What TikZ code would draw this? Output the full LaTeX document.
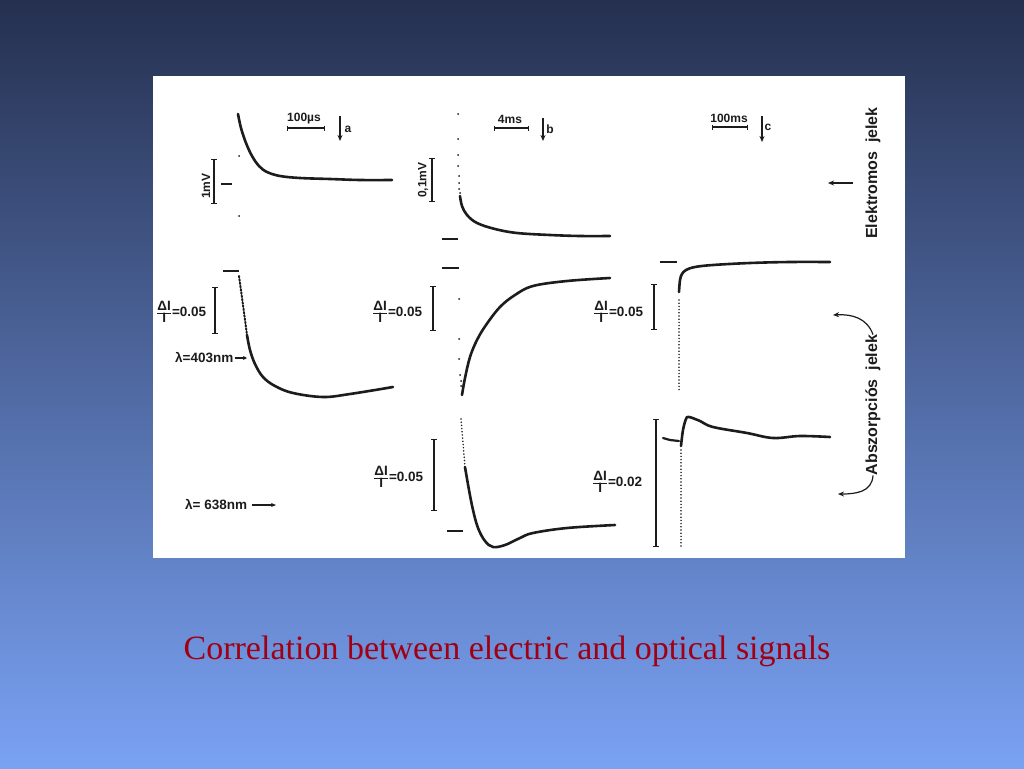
\documentclass[tikz,border=0pt]{standalone}
\usepackage{fontspec}
\setmainfont{Liberation Serif}
\setsansfont{Liberation Sans}
\usetikzlibrary{arrows.meta}
\definecolor{bgtop}{HTML}{25304F}
\definecolor{bgmid}{HTML}{4D69B4}
\definecolor{bgbot}{HTML}{7AA2F4}
\definecolor{capred}{HTML}{A00012}
\definecolor{ink}{HTML}{1C1C1C}
\newcommand\dIfr{$\frac{\hbox{ΔI}}{\hbox{I}}$}
\begin{document}
\begin{tikzpicture}[x=1pt,y=-1pt,
 trace/.style={ink, line width=2.6pt, line cap=round, line join=round},
 dotline/.style={ink, line width=1.7pt, line cap=round, dash pattern=on 0pt off 3.2pt},
 scalebar/.style={ink, line width=1.3pt, {Bar[width=6pt]}-{Bar[width=6pt]}},
 hbarsc/.style={ink, line width=1.1pt, {Bar[width=5pt]}-{Bar[width=5pt]}},
 lab/.style={font=\sffamily\bfseries\fontsize{12}{12}\selectfont, inner sep=0pt, text=ink},
 flab/.style={font=\sffamily\bfseries\fontsize{13.5}{13.5}\selectfont, inner sep=0pt, text=ink, anchor=west},
 vlab/.style={font=\sffamily\bfseries\fontsize{12}{12}\selectfont, inner sep=0pt, rotate=90, text=ink},
 side/.style={font=\sffamily\bfseries\fontsize{16}{16}\selectfont, inner sep=0pt, rotate=90, text=ink},
 arr/.style={ink, line width=1.2pt, -{Stealth[length=6pt,width=5pt]}},
 dot/.style={ink},
 ]
\useasboundingbox (0,0) rectangle (1024,768);
\shade[top color=bgtop, middle color=bgmid, bottom color=bgbot] (0,0) rectangle (1024,768);
\fill[white] (153,76) rectangle (905,558);

% ---------- column a ----------
\node[lab] (sa) at (304,119) {100µs};
\draw[hbarsc] (287,128) -- (325,128);
\coordinate (aA) at (340,116); \coordinate (aB) at (340,141);
\draw[arr] (aA) -- (aB);
\node[lab] (la) at (348,129) {a};

\node[vlab] (mv1) at (206,186) {1mV};
\draw[scalebar] (214,159) -- (214,204);
\draw[ink, line width=2pt] (221,184) -- (232,184);
\fill[dot] (239,156) circle (1pt) (239,216) circle (1pt);
\draw[trace] plot[smooth, tension=0.6] coordinates {(238,114) (241,128) (246,143) (252,156) (259,166) (267,172) (280,176) (300,178) (330,179) (360,180) (392,180)};

\draw[ink, line width=2.2pt] (223,271) -- (239,271);
\draw[scalebar] (215,287) -- (215,334);
\node[flab] (fa2) at (156,312) {\dIfr=0.05};
\draw[ink, line width=2pt, line cap=round, dash pattern=on 1.5pt off 1.8pt] (239,276) -- (243,305) -- (247,335);
\draw[trace] plot[smooth, tension=0.6] coordinates {(247,335) (250,350) (255,364) (263,377) (275,386) (293,393) (323,397) (350,394) (393,387)};
\node[flab] (l403) at (175,358) {λ=403nm};
\coordinate (l403e) at (247,358);
\draw[ink, line width=1.1pt, -{Stealth[length=4pt,width=4pt]}] ([xshift=1pt]l403.east) -- (l403e);

\node[flab] (l638) at (185,505) {λ= 638nm};
\coordinate (l638e) at (276,505);
\draw[ink, line width=1.1pt, -{Stealth[length=5pt,width=4pt]}] ([xshift=5pt]l638.east) -- (l638e);

% ---------- column b ----------
\node[lab] (sb) at (510,119) {4ms};
\draw[hbarsc] (494,128) -- (529,128);
\coordinate (bA) at (543,118); \coordinate (bB) at (543,141);
\draw[arr] (bA) -- (bB);
\node[lab] (lb) at (550,129) {b};

\node[vlab] (mv2) at (423,180) {0,1mV};
\draw[scalebar] (432,158) -- (432,202);
\draw[ink, line width=2.2pt] (442,239) -- (458,239);
\fill[dot] (458,114) circle (1pt) (458,139) circle (1pt) (458,155) circle (1pt) (458,166) circle (1pt)
 (459,176) circle (1pt) (459,183) circle (1pt) (459,189) circle (1pt) (460,193) circle (1pt);
\draw[trace] plot[smooth, tension=0.6] coordinates {(460,196) (462,206) (467,215) (477,223) (495,229) (517,233) (550,235) (580,236) (610,236)};

\draw[ink, line width=2.2pt] (442,268) -- (459,268);
\draw[scalebar] (433,286) -- (433,331);
\node[flab] (fb2) at (372,312) {\dIfr=0.05};
\fill[dot] (459,299) circle (1pt) (459,339) circle (1pt) (459,359) circle (1pt) (460,375) circle (1pt) (461,381) circle (1pt) (461,386) circle (1pt);
\draw[trace] plot[smooth, tension=0.6] coordinates {(462,395) (465,378) (470,357) (477,340) (486,325) (500,307) (515,295) (533,286) (567,281) (610,278)};

\draw[ink, line width=2.2pt] (447,531) -- (463,531);
\draw[scalebar] (434,439) -- (434,511);
\node[flab] (fb3) at (373,477) {\dIfr=0.05};
\draw[dotline] (461,419) -- (465,467);
\draw[trace] plot[smooth, tension=0.6] coordinates {(465,467) (469,490) (473,510) (478,528) (485,541) (493,547) (505,545) (520,538) (533,533) (567,528) (615,525)};

% ---------- column c ----------
\node[lab] (sc) at (729,118) {100ms};
\draw[hbarsc] (712,127) -- (748,127);
\coordinate (cA) at (762,116); \coordinate (cB) at (762,142);
\draw[arr] (cA) -- (cB);
\node[lab] (lc) at (768,127) {c};

\node[side] (elek) at (873,173) {Elektromos\ \ jelek};
\coordinate (eA) at (853,183); \coordinate (eB) at (828,183);
\draw[arr] (eA) -- (eB);

\draw[ink, line width=2.2pt] (660,262) -- (677,262);
\draw[scalebar] (654,284) -- (654,330);
\node[flab] (fc2) at (593,312) {\dIfr=0.05};
\draw[dotline] (679,300) -- (679,392);
\draw[trace] plot[smooth, tension=0.6] coordinates {(679,292) (680,280) (682,274) (686,270) (695,267) (713,265) (750,263) (790,262) (830,262)};

\draw[ink, line width=2.2pt, line cap=round] (663,438) -- (670,440) -- (679,441);
\draw[scalebar] (656,419) -- (656,547);
\node[flab] (fc3) at (592,482) {\dIfr=0.02};
\draw[dotline] (681,450) -- (681,546);
\draw[trace] plot[smooth, tension=0.6] coordinates {(681,446) (683,430) (686,419) (689,417) (700,421) (713,427) (747,433) (773,438) (800,436) (830,437)};

\node[side] (absz) at (873,405) {Abszorpciós\ \ jelek};
\coordinate (tA) at (833,315); \coordinate (tB) at (838,494);
\draw[arr] (absz.east) .. controls (867,318) and (852,314) .. (tA);
\draw[arr] (absz.west) .. controls (872,492) and (856,494) .. (tB);

% ---------- caption ----------
\node[font=\fontsize{34}{34}\selectfont, text=capred, inner sep=0pt] (cap) at (507,651) {Correlation between electric and optical signals};
\end{tikzpicture}
\end{document}
